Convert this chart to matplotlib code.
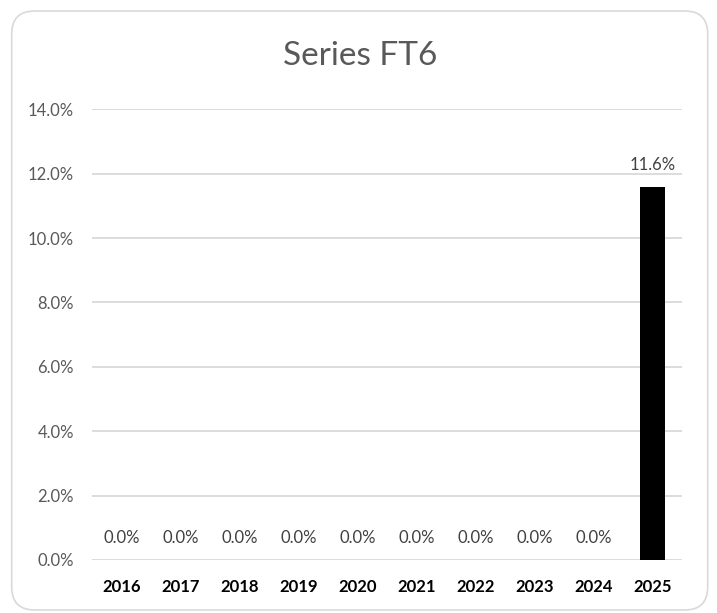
import matplotlib.pyplot as plt
from matplotlib.patches import FancyBboxPatch
from matplotlib.ticker import FuncFormatter

years = ['2016', '2017', '2018', '2019', '2020', '2021', '2022', '2023', '2024', '2025']
values = [0.0, 0.0, 0.0, 0.0, 0.0, 0.0, 0.0, 0.0, 0.0, 11.6]
title = 'Series FT6'

plt.rcParams['font.family'] = ['Lato', 'DejaVu Sans']

fig = plt.figure(figsize=(7.17, 6.13), dpi=100)

# rounded chart border (in inches), drawn behind the axes
border = FancyBboxPatch((0.117, 0.03), 6.96, 5.99, boxstyle='round,pad=0,rounding_size=0.23',
                        transform=fig.dpi_scale_trans, facecolor='white', edgecolor='#d9d9d9',
                        linewidth=1.2, zorder=-1)
fig.patches.append(border)

ax = fig.add_axes([0.1283, 0.0865, 0.8229, 0.7352])
ax.set_facecolor('none')

x = range(len(years))
ax.bar(x, values, width=0.41, color='black', zorder=3)

for i, v in enumerate(values):
    ax.annotate(f'{v:.1f}%', (i, v), xytext=(0, 10), textcoords='offset points',
                ha='center', va='bottom', fontsize=12, color='#404040')

ax.set_ylim(0, 14)
ax.set_xlim(-0.5, len(years) - 0.5)
ax.set_yticks(range(0, 15, 2))
ax.yaxis.set_major_formatter(FuncFormatter(lambda v, p: f'{v:.1f}%'))
ax.set_xticks(list(x))
ax.set_xticklabels(years, fontweight='bold', fontsize=12, color='black')
ax.tick_params(axis='y', labelsize=12, labelcolor='#595959', length=0, pad=13)
ax.tick_params(axis='x', length=0, pad=13.5)
ax.grid(axis='y', color='#d9d9d9', linewidth=1.3, zorder=0)
for s in ax.spines.values():
    s.set_visible(False)

fig.text(0.502, 1 - 65 / 613, title, ha='center', va='baseline', fontsize=24, color='#595959')

fig.savefig('out.png', dpi=100)
